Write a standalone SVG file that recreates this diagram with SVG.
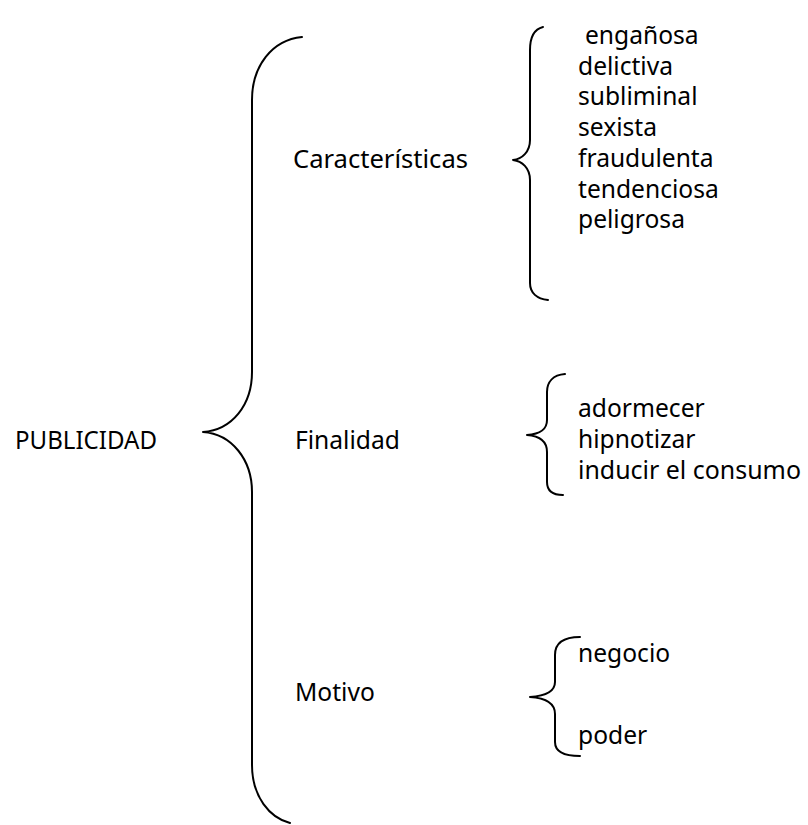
<svg xmlns="http://www.w3.org/2000/svg" width="808" height="825" viewBox="0 0 808 825">
<style>
.t{font-family:"Noto Sans","Open Sans","DejaVu Sans",sans-serif;font-size:24.6px;fill:#000}
.b{fill:none;stroke:#000;stroke-width:2;stroke-linecap:round;stroke-linejoin:round}
</style>
<rect width="808" height="825" fill="#fff"/>
<g id="connectors">
<path class="b" d="M302,37 C272,40 252,66 252,100 L252,372 C252,405 232,430 203,432 C232,434 252,460 252,492 L252,765 C252,797 270,818 290,823"/>
<path class="b" d="M543,27 C535,29 530,37 530,50 L530,140 C530,152 522,159 513,160 C522,161 530,168 530,180 L530,283 C530,293 537,299 548,300"/>
<path class="b" d="M565,374 C553,375 547,382 547,392 L547,420 C547,430 540,434 527,435 C540,436 547,441 547,452 L547,482 C547,490 552,495 563,495"/>
<path class="b" d="M580,637 C565,637 555,642 555,655 L555,682 C555,692 545,696 530,697 C545,698 555,703 555,714 L555,742 C555,752 565,756 580,756"/>
</g>
<g id="publicidad"><text class="t" x="15" y="449" textLength="142" lengthAdjust="spacingAndGlyphs">PUBLICIDAD</text></g>
<g id="caracteristicas"><text class="t" x="293" y="168" textLength="175" lengthAdjust="spacingAndGlyphs">Características</text></g>
<g id="finalidad"><text class="t" x="295" y="449">Finalidad</text></g>
<g id="motivo"><text class="t" x="295" y="701">Motivo</text></g>
<g id="caracteristicas-items">
<text class="t" x="585" y="44">engañosa</text>
<text class="t" x="578" y="75">delictiva</text>
<text class="t" x="578" y="105">subliminal</text>
<text class="t" x="578" y="136">sexista</text>
<text class="t" x="578" y="167">fraudulenta</text>
<text class="t" x="578" y="198">tendenciosa</text>
<text class="t" x="578" y="228">peligrosa</text>
</g>
<g id="finalidad-items">
<text class="t" x="578" y="417">adormecer</text>
<text class="t" x="578" y="448">hipnotizar</text>
<text class="t" x="578" y="479" textLength="223" lengthAdjust="spacingAndGlyphs">inducir el consumo</text>
</g>
<g id="motivo-items">
<text class="t" x="578" y="662">negocio</text>
<text class="t" x="578" y="744">poder</text>
</g>
</svg>
